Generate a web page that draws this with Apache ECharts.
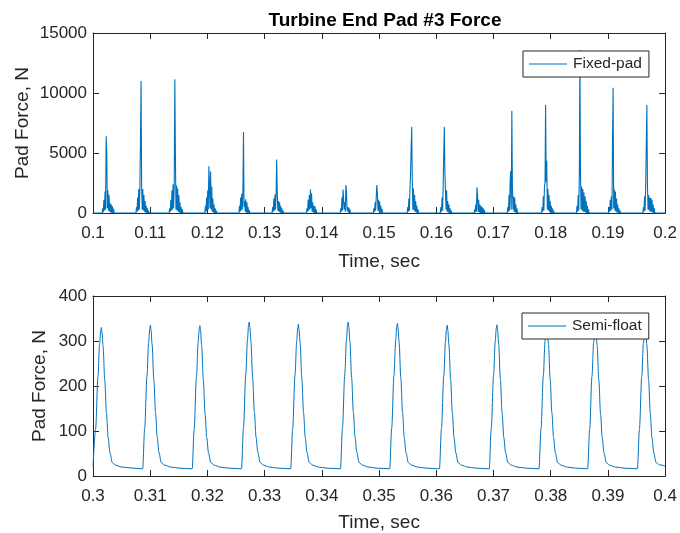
<!DOCTYPE html>
<html>
<head>
<meta charset="utf-8">
<script src="https://cdn.jsdelivr.net/npm/echarts@6/dist/echarts.min.js"></script>
<style>
  html, body { margin: 0; padding: 0; background: #ffffff; }
  #chart { width: 680px; height: 533px; }
</style>
</head>
<body>
<div id="chart"></div>
<script>
// ---- Fixed-pad force, turbine end pad #3 (0.1 - 0.2 s) ----
// Each impact burst is stored as a run of samples taken every SAMPLE_DT seconds,
// beginning at the matching entry of burstStart.
const SAMPLE_DT = 0.0001;
const burstStart = [0.1016, 0.1075, 0.1133, 0.11955, 0.1255, 0.1313, 0.1373, 0.1432, 0.1490,
                    0.1549, 0.1607, 0.1666, 0.1724, 0.1784, 0.1845, 0.1901, 0.1961];
const burstForce = [
  [0, 400, 60, 1100, 200, 1800, 300, 6400, 5200, 400, 1900, 200, 1500, 100, 800, 50, 700, 0, 550, 0, 350, 0, 150, 0],
  [0, 500, 100, 1300, 200, 2000, 300, 2300, 6200, 11000, 2100, 300, 2000, 200, 1500, 100, 1000, 50, 600, 0, 400, 0, 200, 0],
  [0, 400, 100, 1100, 200, 1900, 300, 2400, 400, 2500, 11150, 5000, 300, 2300, 200, 2050, 100, 1500, 50, 900, 0, 500, 0, 300, 0, 150, 0],
  [0, 600, 100, 1300, 200, 1900, 300, 3900, 2200, 400, 3450, 300, 2200, 100, 1200, 50, 700, 0, 400, 0, 200, 0],
  [0, 600, 100, 1300, 200, 1600, 300, 2000, 6750, 500, 1000, 100, 1150, 50, 900, 0, 500, 0, 250, 0],
  [0, 500, 100, 1200, 200, 1550, 300, 1500, 4450, 1800, 200, 1000, 100, 900, 50, 600, 0, 400, 0, 200, 0],
  [0, 400, 100, 1100, 200, 1500, 300, 1950, 400, 1650, 100, 900, 50, 600, 0, 550, 0, 300, 0],
  [0, 400, 100, 1300, 200, 1950, 1900, 300, 900, 100, 2330, 1800, 200, 500, 50, 450, 0, 300, 0, 150, 0],
  [0, 400, 100, 900, 200, 1300, 2330, 1700, 200, 1100, 100, 950, 50, 600, 0, 350, 0, 150, 0],
  [0, 500, 100, 1200, 200, 2000, 3200, 5400, 7190, 2800, 300, 2050, 200, 1500, 100, 1000, 50, 600, 0, 300, 0],
  [0, 500, 100, 1300, 200, 2250, 5000, 7190, 3400, 3300, 300, 1900, 100, 1000, 50, 700, 0, 400, 0, 200, 0],
  [0, 300, 50, 700, 100, 2140, 1500, 100, 1100, 50, 700, 0, 600, 0, 500, 0, 400, 0, 250, 0, 100, 0],
  [0, 500, 100, 1500, 200, 2500, 3500, 300, 8530, 2300, 300, 1400, 100, 1300, 50, 700, 0, 400, 0, 150, 0],
  [0, 500, 100, 1400, 200, 2200, 2500, 9000, 2600, 4350, 300, 2000, 200, 1500, 100, 1000, 50, 600, 0, 400, 0, 200, 0],
  [0, 600, 100, 1500, 200, 3300, 13580, 3000, 300, 2200, 200, 2000, 100, 1700, 100, 1400, 50, 1000, 0, 600, 0, 300, 0],
  [0, 500, 100, 1100, 200, 1400, 300, 6300, 10440, 400, 2000, 200, 1800, 100, 1200, 50, 700, 0, 400, 0, 200, 0],
  [0, 500, 100, 1400, 200, 2500, 2400, 9000, 2300, 300, 1500, 200, 1300, 100, 1250, 100, 1100, 50, 700, 0, 400, 0, 150, 0]
];

// ---- Semi-float pad force (0.3 - 0.4 s), [time s, force N] ----
const semiFloat = [
  [0.30000, 20], [0.30046, 105], [0.30086, 220], [0.30116, 295], [0.30134, 322], [0.30146, 330], [0.30158, 318], [0.30176, 288], [0.30206, 212], [0.30236, 138], [0.30266, 84], [0.30296, 52], [0.30336, 30], [0.30396, 24], [0.30496, 20], [0.30646, 18],
  [0.30868, 16], [0.30903, 105], [0.30943, 222], [0.30973, 298], [0.30991, 327], [0.31003, 335], [0.31015, 323], [0.31033, 292], [0.31063, 215], [0.31093, 140], [0.31123, 85], [0.31153, 52], [0.31193, 30], [0.31253, 24], [0.31353, 20], [0.31503, 17.5],
  [0.31733, 16], [0.31768, 104], [0.31808, 221], [0.31838, 297], [0.31856, 326], [0.31868, 334], [0.31880, 322], [0.31898, 291], [0.31928, 214], [0.31958, 139], [0.31988, 85], [0.32018, 52], [0.32058, 30], [0.32118, 24], [0.32218, 20], [0.32368, 17.5],
  [0.32595, 16], [0.32630, 107], [0.32670, 226], [0.32700, 303], [0.32718, 334], [0.32730, 342], [0.32742, 330], [0.32760, 298], [0.32790, 219], [0.32820, 142], [0.32850, 86], [0.32880, 53], [0.32920, 30], [0.32980, 24], [0.33080, 20], [0.33230, 17.5],
  [0.33455, 16], [0.33490, 105], [0.33530, 223], [0.33560, 299], [0.33578, 329], [0.33590, 337], [0.33602, 325], [0.33620, 294], [0.33650, 216], [0.33680, 140], [0.33710, 85], [0.33740, 52], [0.33780, 30], [0.33840, 24], [0.33940, 20], [0.34090, 17.5],
  [0.34325, 16], [0.34360, 107], [0.34400, 226], [0.34430, 303], [0.34448, 334], [0.34460, 342], [0.34472, 330], [0.34490, 298], [0.34520, 219], [0.34550, 142], [0.34580, 86], [0.34610, 53], [0.34650, 30], [0.34710, 24], [0.34810, 20], [0.34960, 17.5],
  [0.35185, 16], [0.35220, 106], [0.35260, 224], [0.35290, 301], [0.35308, 331], [0.35320, 339], [0.35332, 327], [0.35350, 296], [0.35380, 217], [0.35410, 141], [0.35440, 85], [0.35470, 52], [0.35510, 30], [0.35570, 24], [0.35670, 20], [0.35820, 17.5],
  [0.36055, 16], [0.36090, 105], [0.36130, 222], [0.36160, 298], [0.36178, 327], [0.36190, 335], [0.36202, 323], [0.36220, 292], [0.36250, 215], [0.36280, 140], [0.36310, 85], [0.36340, 52], [0.36380, 30], [0.36440, 24], [0.36540, 20], [0.36690, 17.5],
  [0.36925, 16], [0.36960, 105], [0.37000, 222], [0.37030, 299], [0.37048, 328], [0.37060, 336], [0.37072, 324], [0.37090, 293], [0.37120, 215], [0.37150, 140], [0.37180, 85], [0.37210, 52], [0.37250, 30], [0.37310, 24], [0.37410, 20], [0.37560, 17.5],
  [0.37795, 16], [0.37830, 105], [0.37870, 222], [0.37900, 299], [0.37918, 328], [0.37930, 336], [0.37942, 324], [0.37960, 293], [0.37990, 215], [0.38020, 140], [0.38050, 85], [0.38080, 52], [0.38120, 30], [0.38180, 24], [0.38280, 20], [0.38430, 17.5],
  [0.38645, 16], [0.38680, 104], [0.38720, 221], [0.38750, 297], [0.38768, 326], [0.38780, 334], [0.38792, 322], [0.38810, 291], [0.38840, 214], [0.38870, 139], [0.38900, 85], [0.38930, 52], [0.38970, 30], [0.39030, 24], [0.39130, 20], [0.39280, 17.5],
  [0.39515, 16], [0.39550, 104], [0.39590, 220], [0.39620, 296], [0.39638, 324], [0.39650, 332], [0.39662, 320], [0.39680, 290], [0.39710, 213], [0.39740, 138], [0.39770, 84], [0.39800, 52], [0.39840, 30], [0.39900, 25], [0.40000, 22]
];

const topXTicks = { min: 0.1, max: 0.2, interval: 0.01 };
const botXTicks = { min: 0.3, max: 0.4, interval: 0.01 };
const topYTicks = { min: 0, max: 15000, interval: 5000 };
const botYTicks = { min: 0, max: 400, interval: 100 };

// Assemble the fixed-pad trace: zero between bursts, samples inside them.
const fixedPad = [[0.1, 0]];
burstForce.forEach((run, k) => {
  run.forEach((f, i) => fixedPad.push([burstStart[k] + i * SAMPLE_DT, f]));
});
fixedPad.push([0.2, 0]);

const INK = '#262626';
const FONT = '"Liberation Sans", Arial, Helvetica, sans-serif';
const LINE = '#0072BD';

const frameLine = { show: true, onZero: false, lineStyle: { color: INK, width: 1 } };
const frameTick = { show: true, inside: true, length: 6, lineStyle: { color: INK, width: 1 } };

function xAxes(gridIndex, ticks, nameGap) {
  const common = {
    type: 'value', gridIndex, min: ticks.min, max: ticks.max, interval: ticks.interval,
    axisLine: frameLine, axisTick: frameTick, splitLine: { show: false }
  };
  return [
    Object.assign({}, common, {
      position: 'bottom',
      name: 'Time, sec', nameLocation: 'middle', nameGap: nameGap, nameMoveOverlap: false,
      nameTextStyle: { color: INK, fontSize: 19, fontFamily: FONT },
      axisLabel: { color: INK, fontSize: 17, fontFamily: FONT, margin: 12,
        formatter: v => String(Number(v.toFixed(2))) }
    }),
    Object.assign({}, common, { position: 'top', axisLabel: { show: false } })
  ];
}

function yAxes(gridIndex, ticks, nameGap) {
  const common = {
    type: 'value', gridIndex, min: ticks.min, max: ticks.max, interval: ticks.interval,
    axisLine: frameLine, axisTick: frameTick, splitLine: { show: false }
  };
  return [
    Object.assign({}, common, {
      position: 'left',
      name: 'Pad Force, N', nameLocation: 'middle', nameGap: nameGap, nameRotate: 90,
      nameMoveOverlap: false,
      nameTextStyle: { color: INK, fontSize: 19, fontFamily: FONT },
      axisLabel: { color: INK, fontSize: 17, fontFamily: FONT, margin: 6, formatter: v => String(v) }
    }),
    Object.assign({}, common, { position: 'right', axisLabel: { show: false } })
  ];
}

function legendBox(label, left, top) {
  return {
    data: [label], left: left, top: top, orient: 'vertical',
    icon: 'rect', itemWidth: 38, itemHeight: 1.2, itemGap: 0,
    padding: [5, 7, 5, 6],
    backgroundColor: '#ffffff', borderColor: INK, borderWidth: 1,
    textStyle: { color: INK, fontSize: 15.5, fontFamily: FONT, padding: [0, 0, 0, 1] }
  };
}

const chart = echarts.init(document.getElementById('chart'), null, { renderer: 'canvas' });

chart.setOption({
  animation: false,
  backgroundColor: '#ffffff',
  title: {
    text: 'Turbine End Pad #3 Force',
    left: 380, top: 6, textAlign: 'center',
    textStyle: { color: '#000000', fontSize: 19, fontWeight: 'bold', fontFamily: FONT }
  },
  grid: [
    { left: 93, top: 33, width: 575, height: 180 },
    { left: 93, top: 296, width: 575, height: 180 }
  ],
  legend: [legendBox('Fixed-pad', 523, 51), legendBox('Semi-float', 522, 313)],
  xAxis: [].concat(xAxes(0, topXTicks, 39), xAxes(1, botXTicks, 37)),
  yAxis: [].concat(yAxes(0, topYTicks, 61), yAxes(1, botYTicks, 44)),
  series: [
    {
      name: 'Fixed-pad', type: 'line', xAxisIndex: 0, yAxisIndex: 0,
      data: fixedPad, symbol: 'none', showSymbol: false,
      lineStyle: { color: LINE, width: 1.1 }, itemStyle: { color: LINE },
      emphasis: { disabled: true }
    },
    {
      name: 'Semi-float', type: 'line', xAxisIndex: 2, yAxisIndex: 2,
      data: semiFloat, symbol: 'none', showSymbol: false,
      smooth: 0.3, smoothMonotone: 'x',
      lineStyle: { color: LINE, width: 1 }, itemStyle: { color: LINE },
      emphasis: { disabled: true }
    }
  ]
});
</script>
</body>
</html>
